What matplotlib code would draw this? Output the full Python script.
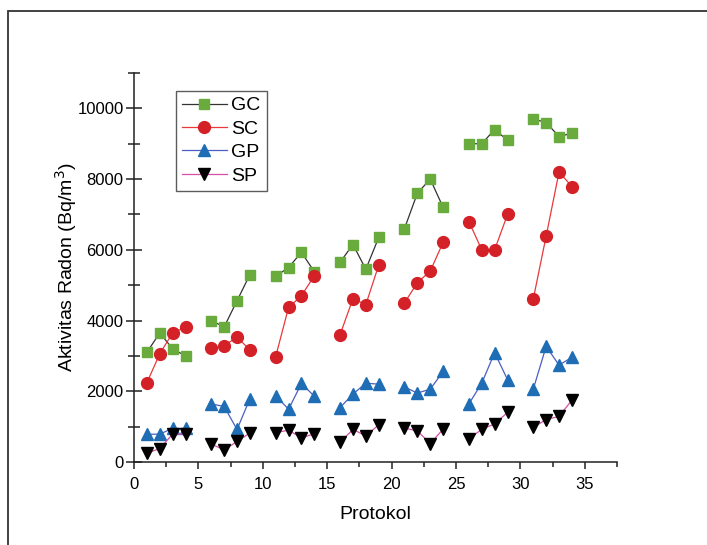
import numpy as np
import matplotlib
matplotlib.use("Agg")
import matplotlib.pyplot as plt
from matplotlib.patches import Rectangle
from matplotlib.ticker import MultipleLocator

plt.rcParams['font.family'] = ['Liberation Sans', 'DejaVu Sans']

nan = np.nan
# protokol 1..34, gaps at 5, 10, 15, 20, 25, 30
protokol = np.arange(1, 35)

gc = [3100, 3650, 3200, 3000, nan,
      4000, 3820, 4560, 5300, nan,
      5250, 5500, 5930, 5380, nan,
      5650, 6150, 5450, 6350, nan,
      6600, 7600, 8000, 7200, nan,
      9000, 9000, 9400, 9100, nan,
      9700, 9600, 9200, 9300]
sc = [2240, 3060, 3650, 3810, nan,
      3210, 3290, 3530, 3170, nan,
      2980, 4370, 4700, 5270, nan,
      3600, 4620, 4450, 5570, nan,
      4500, 5070, 5400, 6210, nan,
      6800, 6000, 6000, 7000, nan,
      4610, 6390, 8200, 7790]
gp = [780, 790, 950, 950, nan,
      1640, 1570, 920, 1790, nan,
      1880, 1490, 2220, 1860, nan,
      1540, 1920, 2230, 2200, nan,
      2120, 1950, 2060, 2560, nan,
      1640, 2230, 3090, 2330, nan,
      2060, 3270, 2740, 2960]
sp = [250, 380, 790, 790, nan,
      510, 340, 580, 820, nan,
      830, 900, 680, 800, nan,
      560, 920, 740, 1050, nan,
      960, 880, 520, 930, nan,
      660, 920, 1080, 1400, nan,
      980, 1200, 1290, 1750]

series = [
    ("GC", gc, "#333333", "s", "#6aab3e", 7.5),
    ("SC", sc, "#e8393b", "o", "#d42027", 8.5),
    ("GP", gp, "#4a5fc1", "^", "#1f6db5", 9),
    ("SP", sp, "#d64fa8", "v", "#000000", 9),
]

fig = plt.figure(figsize=(7.07, 5.45), dpi=100)
ax = fig.add_axes([134 / 707, 1 - 462 / 545, 483 / 707, 389 / 545])

for name, vals, lc, mk, mc, ms in series:
    ax.plot(protokol, vals, color=lc, lw=0.9, marker=mk, markersize=ms,
            markerfacecolor=mc, markeredgecolor=mc, label=name)

ax.set_xlim(0, 37.5)
ax.set_ylim(0, 11000)
ax.xaxis.set_major_locator(MultipleLocator(5))
ax.xaxis.set_minor_locator(MultipleLocator(2.5))
ax.yaxis.set_major_locator(MultipleLocator(2000))
ax.yaxis.set_minor_locator(MultipleLocator(1000))

for s in ["top", "right"]:
    ax.spines[s].set_visible(False)
for s in ["left", "bottom"]:
    ax.spines[s].set_linewidth(1.1)
    ax.spines[s].set_color("#222222")

ax.tick_params(axis="x", which="major", direction="out", length=5, width=1.1,
               labelsize=12, pad=6, color="#222222")
ax.tick_params(axis="x", which="minor", direction="out", length=3.5, width=1.1,
               color="#222222")
ax.tick_params(axis="y", which="major", direction="inout", length=11, width=1.1,
               labelsize=12, pad=2, color="#222222")
ax.tick_params(axis="y", which="minor", direction="inout", length=8, width=1.1,
               color="#222222")

ax.set_xlabel("Protokol", fontsize=14, labelpad=10)
ax.set_ylabel("Aktivitas Radon (Bq/m$^3$)", fontsize=14, labelpad=-1)

leg = ax.legend(loc="upper left", bbox_to_anchor=(0.087, 0.954), borderaxespad=0,
                fontsize=14, frameon=True, fancybox=False, handlelength=2.3,
                handletextpad=0.25, labelspacing=0.3, borderpad=0.3)
leg.get_frame().set_edgecolor("#333333")
leg.get_frame().set_linewidth(1.0)

# outer frame of the page
fig.patches.append(Rectangle((8 / 707, -0.1), 1.2, 1.1 - 11 / 545,
                             transform=fig.transFigure, fill=False,
                             edgecolor="#333333", lw=1.3))

fig.savefig("out.png", dpi=100)
